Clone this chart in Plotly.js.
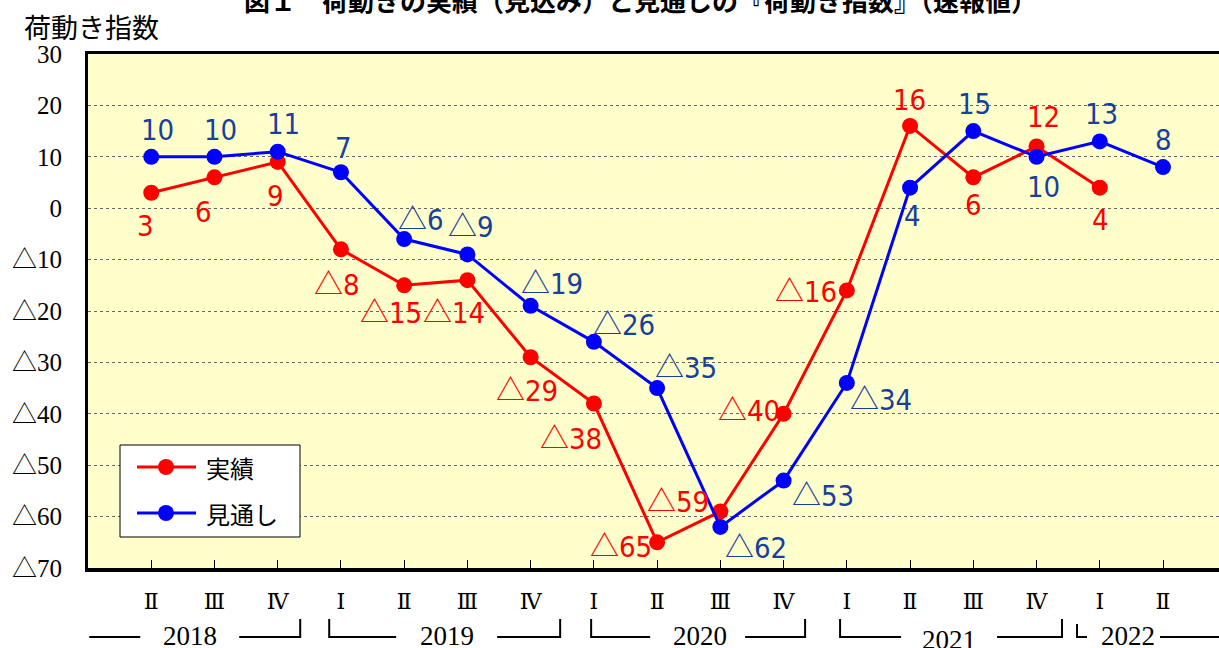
<!DOCTYPE html>
<html>
<head>
<meta charset="utf-8">
<script src="https://cdn.plot.ly/plotly-3.0.1.min.js"></script>
<style>html,body{margin:0;padding:0;background:#fff;}#chart{width:1219px;height:648px;}</style>
</head>
<body>
<div id="chart"></div>
<script>
// ---- data ----
const quarterLabels = ['Ⅱ','Ⅲ','Ⅳ','Ⅰ','Ⅱ','Ⅲ','Ⅳ','Ⅰ','Ⅱ','Ⅲ','Ⅳ','Ⅰ','Ⅱ','Ⅲ','Ⅳ','Ⅰ','Ⅱ'];
const years = ['2018','2019','2020','2021','2022'];
const seriesNames = ['実績', '見通し'];
const actual = [3, 6, 9, -8, -15, -14, -29, -38, -65, -59, -40, -16, 16, 6, 12, 4];
const outlook = [10, 10, 11, 7, -6, -9, -19, -26, -35, -62, -53, -34, 4, 15, 10, 13, 8];
const yTickVals = [30, 20, 10, 0, -10, -20, -30, -40, -50, -60, -70];

// ---- styling / layout helpers ----
const L = 88, T = 54, W = 1131, H = 514;
const x0px = 151, dxpx = 63.25;
const pxToX = p => (p - x0px) / dxpx;
const pxToPX = p => (p - L) / W;
const pxToPY = p => (T + H - p) / H;
const cjk = "'Noto Sans CJK JP', sans-serif";
const tri = '<span style="font-family:\'Noto Sans CJK JP\'">△</span>';
const fmt = v => v < 0 ? tri + Math.abs(v) : String(v);
const labelFont = "'DejaVu Sans Condensed', 'Liberation Sans Narrow', 'Noto Sans CJK JP', sans-serif";
const serifFont = "'Liberation Serif', 'DejaVu Serif', 'Noto Sans CJK JP', serif";
const RED = '#FF0000', BLUE = '#0000FF', BLUE_TXT = '#17409A';

// label offsets (pixels: dx right, dy down)
const actualOff = [[-6,33],[-11,35],[-2,34],[-4,33],[-13,25],[-13,30],[-4,31],[-23,32],[-36,2],[-42,-12],[-35,-6],[-41,-1],[-1,-26],[0,28],[7,-30],[1,32]];
const outlookOff = [[6,-27],[6,-27],[6,-28],[3,-24],[17,-22],[4,-30],[21,-25],[30,-20],[29,-23],[36,18],[39,12],[34,14],[2,28],[1,-27],[7,30],[2,-27],[0,-27]];

const xIdx = quarterLabels.map((_, i) => i);

const traces = [
  {x: xIdx.slice(0, actual.length), y: actual, name: seriesNames[0], type: 'scatter', mode: 'lines+markers',
   line: {color: RED, width: 3}, marker: {color: RED, size: 16}},
  {x: xIdx, y: outlook, name: seriesNames[1], type: 'scatter', mode: 'lines+markers',
   line: {color: BLUE, width: 3}, marker: {color: BLUE, size: 16}}
];

const annotations = [];
actual.forEach((v, i) => annotations.push({x: i, y: v, xref: 'x', yref: 'y', text: fmt(v), showarrow: false,
  xshift: actualOff[i][0], yshift: -actualOff[i][1], font: {family: labelFont, size: 29, color: RED}}));
outlook.forEach((v, i) => annotations.push({x: i, y: v, xref: 'x', yref: 'y', text: fmt(v), showarrow: false,
  xshift: outlookOff[i][0], yshift: -outlookOff[i][1], font: {family: labelFont, size: 29, color: BLUE_TXT}}));

// title + axis title
annotations.push({xref: 'paper', yref: 'paper', x: pxToPX(640), y: pxToPY(0), xanchor: 'center', yanchor: 'middle',
  text: '<b>図１　荷動きの実績（見込み）と見通しの『荷動き指数』（速報値）</b>', showarrow: false,
  font: {family: cjk, size: 26, color: '#000'}});
annotations.push({xref: 'paper', yref: 'paper', x: pxToPX(22), y: pxToPY(27), xanchor: 'left', yanchor: 'middle',
  text: '荷動き指数', showarrow: false, font: {family: cjk, size: 27, color: '#000'}});

// year labels and brackets
const yearTextPx = [[190, 636], [447, 636], [700, 636], [949, 640], [1128, 636]];
years.forEach((yr, i) => annotations.push({xref: 'x', yref: 'paper', x: pxToX(yearTextPx[i][0]), y: pxToPY(yearTextPx[i][1]),
  xanchor: 'center', yanchor: 'middle', text: yr, showarrow: false, font: {family: serifFont, size: 27, color: '#000'}}));

const hLines = [[89,140],[239,300],[329,396],[497,560],[591,650],[745,805],[840,901],[997,1062],[1077,1087],[1160,1219]];
const vLines = [300, 329, 560, 591, 805, 840, 1062];
const shapes = [];
const hy = 637;
hLines.forEach(h => shapes.push({type: 'line', xref: 'x', yref: 'paper', x0: pxToX(h[0]), x1: pxToX(h[1]), y0: pxToPY(hy), y1: pxToPY(hy), line: {color: '#000', width: 2}}));
vLines.forEach(v => shapes.push({type: 'line', xref: 'x', yref: 'paper', x0: pxToX(v), x1: pxToX(v), y0: pxToPY(619), y1: pxToPY(hy + 1), line: {color: '#000', width: 2}}));
shapes.push({type: 'line', xref: 'x', yref: 'paper', x0: pxToX(1077), x1: pxToX(1077), y0: pxToPY(624), y1: pxToPY(hy + 1), line: {color: '#000', width: 2}});

// custom legend (box, line samples, markers, labels)
const legBox = {x0: 120, x1: 300, y0: 445, y1: 537};
const legRows = [467, 513];
const legColors = [RED, BLUE];
shapes.push({type: 'rect', xref: 'paper', yref: 'paper', x0: pxToPX(legBox.x0), x1: pxToPX(legBox.x1), y0: pxToPY(legBox.y0), y1: pxToPY(legBox.y1),
  fillcolor: '#FFFFFF', line: {color: '#000', width: 1}, layer: 'above'});
legRows.forEach((ry, i) => {
  shapes.push({type: 'line', xref: 'paper', yref: 'paper', x0: pxToPX(137), x1: pxToPX(196), y0: pxToPY(ry), y1: pxToPY(ry),
    line: {color: legColors[i], width: 3}, layer: 'above'});
  shapes.push({type: 'circle', xref: 'paper', yref: 'paper', xsizemode: 'pixel', ysizemode: 'pixel',
    xanchor: pxToPX(166), yanchor: pxToPY(ry), x0: -8, x1: 8, y0: -8, y1: 8,
    fillcolor: legColors[i], line: {color: legColors[i], width: 0}, layer: 'above'});
  annotations.push({xref: 'paper', yref: 'paper', x: pxToPX(204), y: pxToPY(ry), xanchor: 'left', yanchor: 'middle',
    text: seriesNames[i], showarrow: false, font: {family: cjk, size: 24, color: '#000'}});
});

const layout = {
  width: 1219, height: 648,
  margin: {l: L, r: 0, t: T, b: 648 - T - H, pad: 0},
  paper_bgcolor: '#FFFFFF', plot_bgcolor: '#FFFFCC',
  showlegend: false,
  xaxis: {range: [-1, pxToX(1219)], tickvals: xIdx, ticktext: quarterLabels, ticks: 'inside', ticklen: 8, tickwidth: 1,
    tickcolor: '#000', showgrid: false, zeroline: false, showline: true, linecolor: '#000', linewidth: 3.5, mirror: true,
    tickfont: {family: serifFont, size: 22, color: '#000'}, ticklabelstandoff: 11, fixedrange: true},
  yaxis: {range: [-70, 30], tickvals: yTickVals, ticktext: yTickVals.map(fmt), ticks: '', showgrid: true,
    gridcolor: '#666', griddash: 'dot', gridwidth: 1, zeroline: false, showline: true, linecolor: '#000', linewidth: 3,
    tickfont: {family: serifFont, size: 25, color: '#000'}, ticklabelstandoff: 18, fixedrange: true},
  annotations: annotations,
  shapes: shapes
};

Plotly.newPlot('chart', traces, layout, {displayModeBar: false, staticPlot: true});
</script>
</body>
</html>
